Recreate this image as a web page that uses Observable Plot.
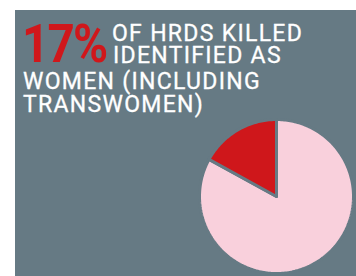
<!DOCTYPE html>
<html>
<head>
<meta charset="utf-8">
<script src="https://cdn.jsdelivr.net/npm/d3@7"></script>
<script src="https://cdn.jsdelivr.net/npm/@observablehq/plot@0.6"></script>
<style>
  html, body { margin: 0; padding: 0; background: #ffffff; width: 356px; height: 276px; overflow: hidden; }
  #panel { position: absolute; left: 15px; top: 10px; width: 341px; height: 266px; background: #667a84; overflow: hidden; font-family: Roboto, sans-serif; }
  .ln { position: absolute; white-space: nowrap; color: #ffffff; font-size: 23px; line-height: 18.4px; font-weight: 400; letter-spacing: 1.3px; -webkit-text-stroke: 0.3px #ffffff; }
  #big { position: absolute; white-space: nowrap; color: #d0171b; font-size: 54px; line-height: 43.2px; font-weight: 700; letter-spacing: -2px; transform-origin: 0 0; transform: scaleX(0.88); }
  #chart { position: absolute; left: 0; top: 0; }
</style>
</head>
<body>
<div id="panel">
  <div id="chart"></div>
  <div id="big"></div>
  <div class="ln" id="l1"></div>
  <div class="ln" id="l2"></div>
  <div class="ln" id="l3"></div>
  <div class="ln" id="l4"></div>
</div>
<script>
// Data
const categories = ["Women (incl. transwomen)", "Other"];
const shares = [17, 83];
const colors = ["#cf171b", "#f9d0dc"];
const headline = "17%";
const titleLines = ["OF HRDS KILLED", "IDENTIFIED AS", "WOMEN (INCLUDING", "TRANSWOMEN)"];

// Text placement (baseline-based; line-height = 0.8em)
const place = (id, text, left, baseline, fs) => {
  const el = document.getElementById(id);
  el.textContent = text;
  el.style.left = left + "px";
  el.style.top = (baseline - 0.7415 * fs) + "px";
};
place("big", headline, 7, 52, 54);
place("l1", titleLines[0], 97, 32, 23);
place("l2", titleLines[1], 98, 54, 23);
place("l3", titleLines[2], 8, 80, 23);
place("l4", titleLines[3], 8, 103, 23);

// Pie geometry from data via d3.pie (red slice ending at 12 o'clock)
const table = categories.map((c, i) => ({category: c, value: shares[i], color: colors[i]}));
const order = [table[1], table[0]];
const arcs = d3.pie().sort(null).value(d => d.value)(order);
const pts = [];
for (const a of arcs) {
  const n = Math.max(2, Math.ceil((a.endAngle - a.startAngle) / 0.02));
  pts.push({category: a.data.category, x: 0, y: 0});
  for (let k = 0; k <= n; k++) {
    const t = a.startAngle + (a.endAngle - a.startAngle) * k / n;
    pts.push({category: a.data.category, x: Math.sin(t), y: Math.cos(t)});
  }
  pts.push({category: a.data.category, x: 0, y: 0});
}

const chart = Plot.plot({
  width: 341,
  height: 266,
  marginLeft: 184,
  marginRight: 3,
  marginTop: 109,
  marginBottom: 3,
  x: {domain: [-1, 1], axis: null},
  y: {domain: [-1, 1], axis: null},
  color: {domain: categories, range: colors},
  style: {background: "transparent", overflow: "visible"},
  marks: [
    Plot.line(pts, {x: "x", y: "y", z: "category", fill: "category", stroke: "#667a84", strokeWidth: 3, strokeLinejoin: "miter", curve: "linear"})
  ]
});
document.getElementById("chart").appendChild(chart);
</script>
</body>
</html>
